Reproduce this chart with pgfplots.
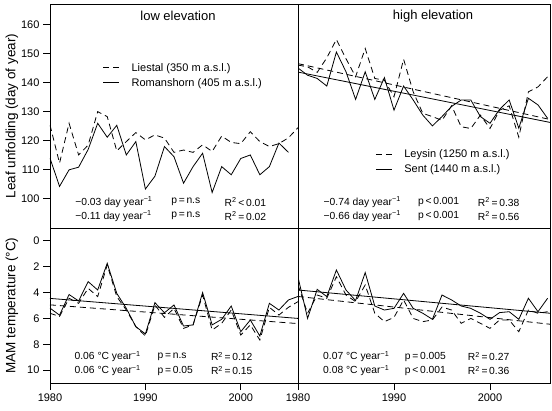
\documentclass[border=0pt]{standalone}
\usepackage{fontspec}
\setmainfont{Liberation Sans}
\usepackage{pgfplots}
\usepackage{pgfplotstable}
\pgfplotsset{compat=1.18}

\pgfplotstableread{
year lie rom
1980 125.4 114.0
1981 112.3 104.3
1982 126.0 110.0
1983 115.1 110.9
1984 118.5 117.0
1985 130.0 126.0
1986 128.3 121.2
1987 116.5 125.3
1988 119.7 115.1
1989 122.8 119.7
1990 120.3 103.4
1991 122.0 107.8
1992 120.9 118.0
1993 116.0 114.5
1994 116.8 105.4
1995 116.0 111.1
1996 118.6 115.7
1997 116.3 102.2
1998 121.6 111.1
1999 119.4 108.3
2000 119.0 113.9
2001 123.1 115.1
2002 119.7 108.3
2003 118.0 111.1
2004 119.0 119.2
2005 121.0 116.0
2006 124.5 nan
}\lowleaf

\pgfplotstableread{
year ley sen
1980 146.0 145.0
1981 145.4 142.5
1982 143.5 141.4
1983 148.5 138.8
1984 154.8 150.5
1985 148.2 143.7
1986 142.0 134.2
1987 151.7 143.7
1988 141.4 134.2
1989 140.8 141.7
1990 135.1 130.5
1991 148.0 138.8
1992 136.8 134.0
1993 129.4 128.8
1994 128.3 125.1
1995 127.0 128.3
1996 132.0 131.8
1997 124.8 134.0
1998 124.2 134.0
1999 128.8 128.3
2000 124.2 126.0
2001 130.5 130.8
2002 132.0 134.0
2003 121.2 124.3
2004 136.8 134.6
2005 138.5 132.3
2006 142.0 127.7
}\highleaf

\pgfplotstableread{
year lie rom
1980 5.60 5.20
1981 5.85 5.75
1982 4.44 4.15
1983 4.83 4.65
1984 3.67 3.15
1985 4.31 3.80
1986 1.86 1.73
1987 4.31 4.06
1988 5.35 5.22
1989 6.64 6.64
1990 7.36 7.20
1991 4.96 4.78
1992 5.92 5.56
1993 5.22 4.96
1994 6.77 6.59
1995 6.50 6.50
1996 4.19 4.00
1997 6.90 6.50
1998 6.38 6.07
1999 5.35 5.04
2000 7.29 7.03
2001 6.50 6.12
2002 7.67 7.36
2003 5.14 4.83
2004 5.74 5.35
2005 5.14 4.57
2006 4.70 4.30
}\lowtemp

\pgfplotstableread{
year ley sen
1980 3.40 2.80
1981 5.60 6.00
1982 4.19 3.75
1983 4.44 4.31
1984 2.77 2.25
1985 4.19 3.80
1986 4.70 4.62
1987 3.41 2.45
1988 5.60 5.04
1989 6.25 5.35
1990 5.92 5.22
1991 4.57 4.06
1992 6.00 5.22
1993 6.25 5.60
1994 6.12 6.07
1995 5.12 4.19
1996 5.35 4.57
1997 6.38 5.04
1998 6.00 5.22
1999 6.38 5.60
2000 6.77 6.07
2001 6.12 5.55
2002 6.12 5.48
2003 7.03 6.07
2004 5.35 4.44
2005 5.60 5.48
2006 5.48 4.44
}\hightemp

\newcommand{\statfont}{\fontsize{10.3}{12}\selectfont}
\pgfplotsset{
  panel/.style={
    scale only axis, xmin=1980,
    axis line style={line width=0.9pt, black},
    every tick/.style={line width=0.9pt, black},
    tick align=outside, major tick length=7pt,
    tick label style={font=\fontsize{11}{13}\selectfont},
    /pgf/number format/assume math mode=true,
    /pgf/number format/1000 sep={},
    xtick pos=lower, ytick pos=left,
    legend image code/.code={\draw[#1] (0pt,0pt) -- (16pt,0pt);},
    legend style={draw=none, fill=none, font=\fontsize{11}{13}\selectfont, row sep=1.5pt, column sep=10pt},
    legend cell align=left,
  },
  dat/.style={black, line width=0.8pt},
  dsh/.style={black, line width=0.8pt, dash pattern=on 6pt off 4pt},
}

\begin{document}
\begin{tikzpicture}
\useasboundingbox (-50pt,-27pt) rectangle (502pt,383pt);

% top-left
\begin{axis}[panel, at={(0pt,155pt)}, anchor=south west, width=248pt, height=224pt,
  xmax=2006, ymin=90, ymax=167, ytick={100,110,...,160}, xtick=\empty,
  legend style={at={(0.2,0.755)}, anchor=north west}]
\addplot[dsh] table[x=year, y=lie] {\lowleaf};
\addlegendentry{Liestal (350 m a.s.l.)}
\addplot[dat] table[x=year, y=rom] {\lowleaf};
\addlegendentry{Romanshorn (405 m a.s.l.)}
\node[font=\fontsize{13}{15}\selectfont] at (rel axis cs:0.516,0.948) {low elevation};
\node[anchor=west, font=\statfont] at (rel axis cs:0.088,0.117) {−0.03 day year\textsuperscript{−1}};
\node[anchor=west, font=\statfont] at (rel axis cs:0.088,0.054) {−0.11 day year\textsuperscript{−1}};
\node[anchor=west, font=\statfont] at (rel axis cs:0.475,0.117) {p\,=\,n.s};
\node[anchor=west, font=\statfont] at (rel axis cs:0.475,0.054) {p\,=\,n.s};
\node[anchor=west, font=\statfont] at (rel axis cs:0.69,0.117) {R\textsuperscript{2}\,<\,0.01};
\node[anchor=west, font=\statfont] at (rel axis cs:0.69,0.054) {R\textsuperscript{2}\,=\,0.02};
\end{axis}

% top-right
\begin{axis}[panel, at={(248pt,155pt)}, anchor=south west, width=252pt, height=224pt,
  xmax=2006.25, ymin=90, ymax=167, ytick=\empty, xtick=\empty,
  legend style={at={(0.295,0.37)}, anchor=north west}]
\addplot[dsh] table[x=year, y=ley] {\highleaf};
\addlegendentry{Leysin (1250 m a.s.l.)}
\addplot[dat] table[x=year, y=sen] {\highleaf};
\addlegendentry{Sent (1440 m a.s.l.)}
\addplot[dsh, forget plot] coordinates {(1980,146.5) (2006.25,127.3)};
\addplot[dat, forget plot] coordinates {(1980,143.6) (2006.25,126.3)};
\node[font=\fontsize{13}{15}\selectfont] at (rel axis cs:0.536,0.946) {high elevation};
\node[anchor=west, font=\statfont] at (rel axis cs:0.088,0.117) {−0.74 day year\textsuperscript{−1}};
\node[anchor=west, font=\statfont] at (rel axis cs:0.088,0.054) {−0.66 day year\textsuperscript{−1}};
\node[anchor=west, font=\statfont] at (rel axis cs:0.463,0.117) {p\,<\,0.001};
\node[anchor=west, font=\statfont] at (rel axis cs:0.463,0.054) {p\,<\,0.001};
\node[anchor=west, font=\statfont] at (rel axis cs:0.7,0.117) {R\textsuperscript{2}\,=\,0.38};
\node[anchor=west, font=\statfont] at (rel axis cs:0.7,0.054) {R\textsuperscript{2}\,=\,0.56};
\end{axis}

% bottom-left
\begin{axis}[panel, at={(0pt,0pt)}, anchor=south west, width=248pt, height=155pt,
  xmax=2006, ymin=-1, ymax=11, y dir=reverse, ytick={0,2,...,10}, xtick={1980,1990,2000}]
\addplot[dsh] table[x=year, y=lie] {\lowtemp};
\addplot[dat] table[x=year, y=rom] {\lowtemp};
\addplot[dsh] coordinates {(1980,4.95) (2006,6.4)};
\addplot[dat] coordinates {(1980,4.45) (2006,6.0)};
\node[anchor=west, font=\statfont] at (rel axis cs:0.085,0.17) {0.06 °C year\textsuperscript{−1}};
\node[anchor=west, font=\statfont] at (rel axis cs:0.085,0.08) {0.06 °C year\textsuperscript{−1}};
\node[anchor=west, font=\statfont] at (rel axis cs:0.42,0.17) {p\,=\,n.s};
\node[anchor=west, font=\statfont] at (rel axis cs:0.42,0.08) {p\,=\,0.05};
\node[anchor=west, font=\statfont] at (rel axis cs:0.635,0.17) {R\textsuperscript{2}\,=\,0.12};
\node[anchor=west, font=\statfont] at (rel axis cs:0.635,0.08) {R\textsuperscript{2}\,=\,0.15};
\end{axis}

% bottom-right
\begin{axis}[panel, at={(248pt,0pt)}, anchor=south west, width=252pt, height=155pt,
  xmax=2006.25, ymin=-1, ymax=11, y dir=reverse, ytick=\empty, xtick={1980,1990,2000}]
\addplot[dsh] table[x=year, y=ley] {\hightemp};
\addplot[dat] table[x=year, y=sen] {\hightemp};
\addplot[dsh] coordinates {(1980,4.3) (2006.25,6.45)};
\addplot[dat] coordinates {(1980,3.8) (2006.25,5.6)};
\node[anchor=west, font=\statfont] at (rel axis cs:0.086,0.17) {0.07 °C year\textsuperscript{−1}};
\node[anchor=west, font=\statfont] at (rel axis cs:0.086,0.08) {0.08 °C year\textsuperscript{−1}};
\node[anchor=west, font=\statfont] at (rel axis cs:0.41,0.17) {p\,=\,0.005};
\node[anchor=west, font=\statfont] at (rel axis cs:0.41,0.08) {p\,<\,0.001};
\node[anchor=west, font=\statfont] at (rel axis cs:0.66,0.17) {R\textsuperscript{2}\,=\,0.27};
\node[anchor=west, font=\statfont] at (rel axis cs:0.66,0.08) {R\textsuperscript{2}\,=\,0.36};
\end{axis}

\node[rotate=90, font=\fontsize{13.5}{15}\selectfont] at (-38pt,267pt) {Leaf unfolding (day of year)};
\node[rotate=90, font=\fontsize{13.5}{15}\selectfont] at (-38pt,77.5pt) {MAM temperature (°C)};
\end{tikzpicture}
\end{document}
